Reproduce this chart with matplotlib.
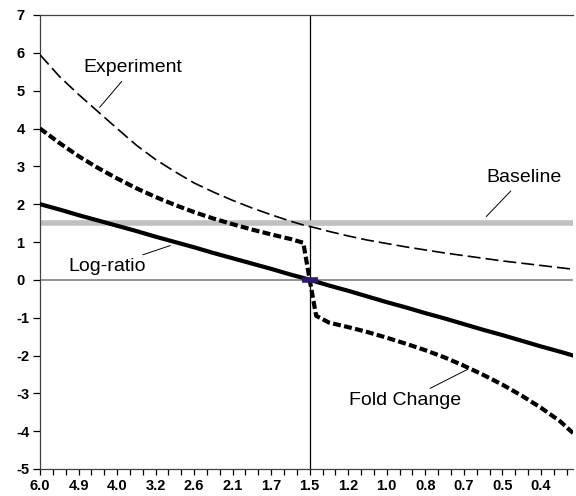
import numpy as np
import matplotlib.pyplot as plt

plt.rcParams['font.family'] = ['Liberation Sans', 'DejaVu Sans']
plt.rcParams['axes.unicode_minus'] = False

# 84 ratio categories (6.0 down to ~0.375), sampled every 3rd one plus both sides of 1.5
idx = [0, 3, 6, 9, 12, 15, 18, 21, 24, 27, 30, 33, 36, 39, 41, 42, 43,
       45, 48, 51, 54, 57, 60, 63, 66, 69, 72, 75, 78, 81, 83]
experiment = [5.95, 5.38, 4.90, 4.45, 4.00, 3.56, 3.18, 2.86, 2.56, 2.32, 2.10, 1.90, 1.72, 1.55, 1.45, 1.41, 1.37,
              1.28, 1.16, 1.05, 0.96, 0.87, 0.79, 0.71, 0.64, 0.57, 0.50, 0.44, 0.38, 0.32, 0.28]
log_ratio = [2.00, 1.86, 1.71, 1.57, 1.43, 1.29, 1.14, 1.00, 0.86, 0.71, 0.57, 0.43, 0.29, 0.14, 0.05, 0.00, -0.05,
             -0.15, -0.29, -0.44, -0.59, -0.73, -0.88, -1.02, -1.17, -1.32, -1.46, -1.61, -1.76, -1.90, -2.00]
fold_change = [4.00, 3.62, 3.27, 2.96, 2.68, 2.42, 2.19, 1.98, 1.79, 1.62, 1.47, 1.33, 1.20, 1.08, 0.98, 0.00, -0.95,
               -1.13, -1.25, -1.38, -1.53, -1.69, -1.86, -2.05, -2.27, -2.51, -2.77, -3.06, -3.38, -3.74, -4.05]
baseline = [1.5] * len(idx)

n_cat = 84
center = 42
tick_labels = ['6.0', '4.9', '4.0', '3.2', '2.6', '2.1', '1.7', '1.5',
               '1.2', '1.0', '0.8', '0.7', '0.5', '0.4']

fig = plt.figure(figsize=(5.76, 4.96), dpi=100)
ax = fig.add_axes([40 / 576, 27 / 496, 533 / 576, 454 / 496])

ax.axhline(0, color='#808080', lw=1.2, zorder=1)
ax.axvline(center, color='black', lw=0.9, zorder=1)

ax.plot(idx, baseline, color='#c0c0c0', lw=4, solid_capstyle='butt', zorder=2)
ax.plot(idx, experiment, color='black', lw=1.2, dashes=(7.8, 3), zorder=3)
ax.plot(idx, fold_change, color='black', lw=3.0, dashes=(1.9, 0.8), zorder=3)
ax.plot(idx, log_ratio, color='black', lw=3.0, solid_joinstyle='round', zorder=4)
ax.plot([center], [0], marker='_', ms=11, mew=4, color='#2e1a6e', zorder=5)

ax.set_xlim(0, n_cat - 1)
ax.set_ylim(-5, 7)

ax.set_xticks(np.arange(0, n_cat, 2), minor=True)
ax.set_xticks(np.arange(0, n_cat, 6))
ax.set_xticklabels(tick_labels, fontweight='bold')
ax.set_yticks(np.arange(-5, 8))
ax.tick_params(axis='x', which='both', direction='out', length=4, width=0.9, pad=3, labelsize=10.5)
ax.tick_params(axis='y', direction='out', length=5, width=0.9, pad=12, labelsize=10.5)
for lab in ax.get_yticklabels():
    lab.set_horizontalalignment('left')
    lab.set_fontweight('bold')

for side in ['left', 'bottom', 'top']:
    ax.spines[side].set_linewidth(0.9)
    ax.spines[side].set_color('#404040')
ax.spines['right'].set_visible(False)

# labels with leader lines
arrow = dict(arrowstyle='-', color='black', lw=0.7)
ax.annotate('Experiment', xy=(9, 4.5), xytext=(14.5, 5.6), ha='center', va='center',
            fontsize=14, arrowprops=arrow)
ax.annotate('Baseline', xy=(69.2, 1.62), xytext=(75.3, 2.7), ha='center', va='center',
            fontsize=14, arrowprops=arrow)
ax.annotate('Log-ratio', xy=(20.7, 0.93), xytext=(10.4, 0.34), ha='center', va='center',
            fontsize=14, arrowprops=arrow)
ax.annotate('Fold Change', xy=(67, -2.33), xytext=(56.9, -3.2), ha='center', va='center',
            fontsize=14, arrowprops=arrow)

fig.savefig('out.png', dpi=100)
